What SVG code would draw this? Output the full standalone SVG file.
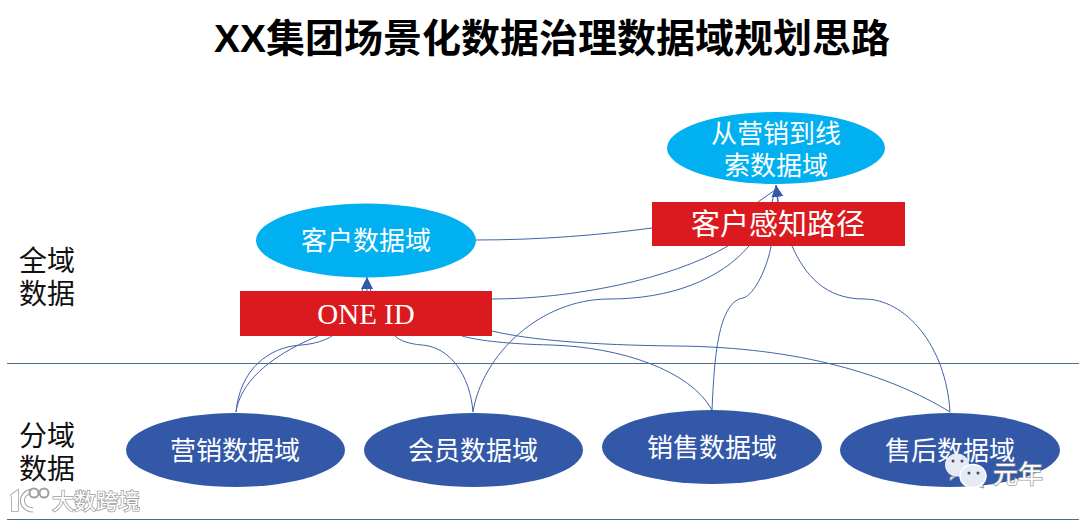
<svg xmlns="http://www.w3.org/2000/svg" width="1080" height="520" viewBox="0 0 1080 520">
  <defs>
    <style>
      text { font-family: "Liberation Sans", "Noto Sans CJK SC", sans-serif; }
      .lbl { fill: #fff; font-size: 26px; text-anchor: middle; }
      .side { fill: #111; font-size: 28px; text-anchor: middle; }
      .light { fill: #00b0f0; }
      .dark { fill: #3358a8; }
      .red { fill: #db1a1f; }
      .c { fill: none; stroke: #3f64a8; stroke-width: 1; }
      .rule { stroke: #4a7088; stroke-width: 1; }
      .wm { fill: #fff; stroke: #a0a0a0; stroke-width: 1.6; paint-order: stroke; }
    </style>
    <marker id="arrow" markerWidth="13" markerHeight="13" refX="12" refY="6.500" orient="auto" markerUnits="userSpaceOnUse">
      <path d="M0,0.500 L12,6.500 L0,12.500 Z" fill="#3358a8"/>
    </marker>
  </defs>
  <rect width="1080" height="520" fill="#fff"/>

  <text id="title" x="552" y="52" font-size="39" font-weight="700" text-anchor="middle" fill="#000">XX集团场景化数据治理数据域规划思路</text>

  <g id="rules">
    <line class="rule" x1="7" y1="363.5" x2="1079" y2="363.5"/>
    <line class="rule" x1="7" y1="519.5" x2="1079" y2="519.5"/>
  </g>

  <g id="connectors">
    <path class="c" d="M236,412 C240,370 268,347 301,345 C315,344 326,340 332,336"/>
    <path class="c" d="M236,412 C240,385 265,358 318,336"/>
    <path class="c" d="M473,412 C470,375 450,347 422,345 C410,344 400,341 395,336"/>
    <path class="c" d="M473,412 C482,355 540,299 609,299 C670,299 720,280 749,246"/>
    <path class="c" d="M712,410 C714,370 716,302 743,298 C755,295 768,265 771,246"/>
    <path class="c" d="M712,410 C690,370 620,347 551,345 C510,344 480,341 462,336"/>
    <path class="c" d="M950,412 C890,375 800,347 676,346 C590,345 530,340 492,331"/>
    <path class="c" d="M950,412 C946,345 905,299 864,299 C825,299 805,275 792,246"/>
    <path class="c" d="M492,299 C570,299 670,280 728,246"/>
    <path class="c" d="M476,240 C540,240 600,235 652,228"/>
    <path class="c" d="M758,202 L775,190"/>
    <path class="c" d="M772,202 L775,190"/>
    <path class="c" d="M778,202 L776,185" marker-end="url(#arrow)" style="stroke-width:1.500"/>
    <path class="c" d="M362,291 L365,282"/>
    <path class="c" d="M371,291 L368,282"/>
    <path class="c" d="M367,291 L367,277" marker-end="url(#arrow)"/>
  </g>

  <g id="node-lead">
    <ellipse class="light" cx="776" cy="148" rx="109" ry="36"/>
    <text class="lbl" x="776" y="143">从营销到线</text>
    <text class="lbl" x="776" y="175">索数据域</text>
  </g>
  <g id="node-customer">
    <ellipse class="light" cx="366" cy="240.500" rx="110" ry="37"/>
    <text class="lbl" x="366" y="250">客户数据域</text>
  </g>
  <g id="node-path">
    <rect class="red" x="652" y="202" width="253" height="44"/>
    <text class="lbl" x="778" y="235" style="font-size:29px">客户感知路径</text>
  </g>
  <g id="node-oneid">
    <rect class="red" x="240" y="291" width="252" height="45"/>
    <text class="lbl" x="366" y="324" style="font-family:'Liberation Serif',serif;font-size:29px">ONE ID</text>
  </g>
  <g id="node-marketing">
    <ellipse class="dark" cx="235.500" cy="450" rx="109.500" ry="37"/>
    <text class="lbl" x="235" y="460">营销数据域</text>
  </g>
  <g id="node-member">
    <ellipse class="dark" cx="473.500" cy="450" rx="109.500" ry="37"/>
    <text class="lbl" x="473" y="460">会员数据域</text>
  </g>
  <g id="node-sales">
    <ellipse class="dark" cx="712" cy="447" rx="110" ry="37"/>
    <text class="lbl" x="712" y="457">销售数据域</text>
  </g>
  <g id="node-aftersales">
    <ellipse class="dark" cx="950" cy="450" rx="110" ry="37"/>
    <text class="lbl" x="950" y="460">售后数据域</text>
  </g>

  <g id="labels">
    <text class="side" x="47" y="271">全域</text>
    <text class="side" x="47" y="304">数据</text>
    <text class="side" x="47" y="446">分域</text>
    <text class="side" x="47" y="479">数据</text>
  </g>

  <g id="watermark-left">
    <path class="wm" d="M11,495 L18,490 L18,511 L12,511 L12,498 Z"/>
    <path d="M32,491 C19,493 19,509 33,510" fill="none" stroke="#a0a0a0" stroke-width="5"/>
    <path d="M32,491 C19,493 19,509 33,510" fill="none" stroke="#fff" stroke-width="3"/>
    <circle cx="34" cy="493" r="4.500" fill="#fff" stroke="#a0a0a0" stroke-width="2"/>
    <circle cx="44" cy="493" r="4.500" fill="#fff" stroke="#a0a0a0" stroke-width="2"/>
    <text class="wm" x="52" y="509" font-size="22">大数跨境</text>
  </g>
  <g id="watermark-right">
    <path d="M950,477 L950,481 L956,476 Z" fill="#e6eaf5" stroke="#8a8a8a" stroke-width="0.800"/>
    <ellipse cx="957" cy="465" rx="12" ry="11.500" fill="#e6eaf5"/>
    <path d="M982,484 L984,488 L976,486 Z" fill="#e6eaf5" stroke="#8a8a8a" stroke-width="0.800"/>
    <ellipse cx="973" cy="476" rx="13" ry="11.500" fill="#e6eaf5" stroke="#fff" stroke-width="1.500"/>
    <circle cx="953" cy="461" r="1.500" fill="#3a4a70"/>
    <circle cx="962" cy="461" r="1.500" fill="#3a4a70"/>
    <circle cx="969" cy="473" r="1.500" fill="#3a4a70"/>
    <circle cx="978" cy="473" r="1.500" fill="#3a4a70"/>
    <text class="wm" x="993" y="483" font-size="25">元年</text>
  </g>
</svg>
